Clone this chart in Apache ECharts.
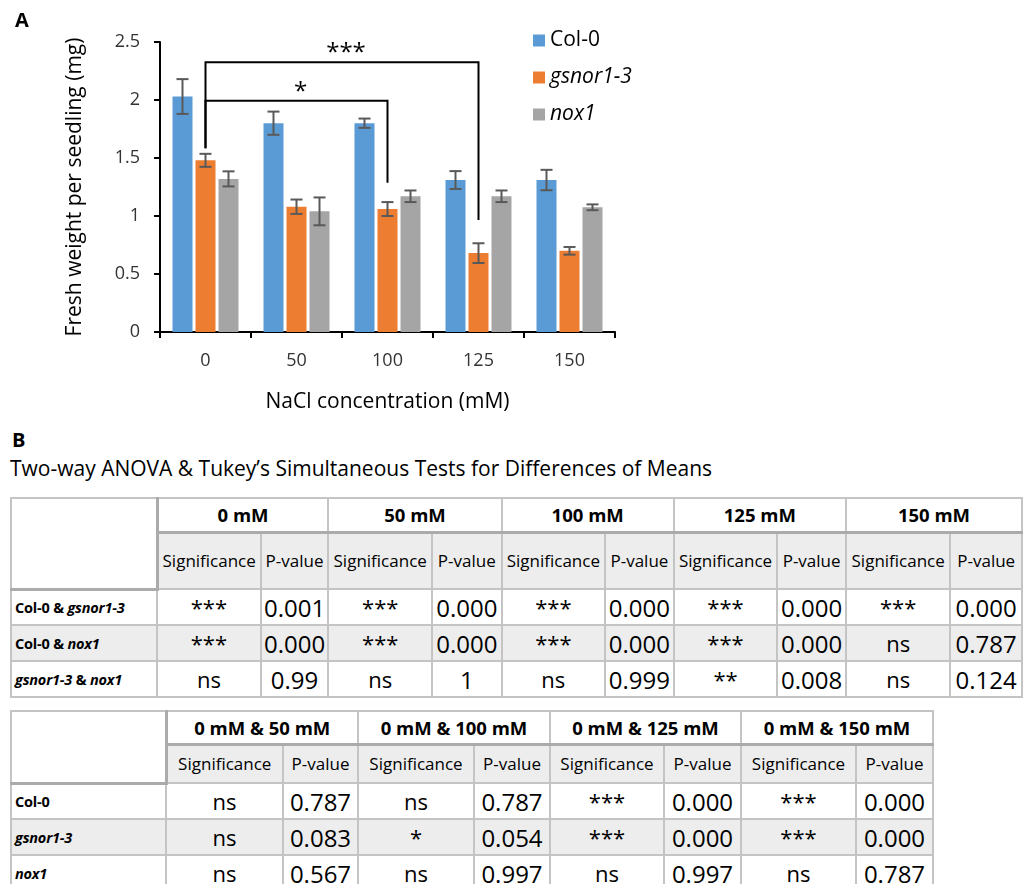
<!DOCTYPE html>
<html>
<head>
<meta charset="utf-8">
<script src="https://cdn.jsdelivr.net/npm/echarts@6/dist/echarts.min.js"></script>
<style>
  html, body { margin: 0; padding: 0; background: #fff; width: 1023px; height: 884px; overflow: hidden; }
  body { position: relative; font-family: "Open Sans", "Noto Sans", sans-serif; color: #000; }
  #chart { position: absolute; left: 0; top: 0; width: 1023px; height: 425px; }
  .panel { position: absolute; font-weight: bold; font-size: 20px; line-height: 24px; }
  .caption { position: absolute; font-size: 21px; line-height: 26px; white-space: nowrap; }
  table { position: absolute; border-collapse: collapse; table-layout: fixed; }
  td { border: 2px solid #C4C4C4; text-align: center; vertical-align: middle; padding: 0; white-space: nowrap; overflow: hidden; }
  td.rh { text-align: left; padding-left: 3px; font-weight: bold; font-size: 14.5px; letter-spacing: -0.2px; }
  td.grp { font-weight: bold; font-size: 18.5px; background: #fff; }
  td.sub { font-size: 17px; background: #EDEDED; border-top: 3px solid #ABABAB; }
  td.corner { background: #fff; border-bottom: 3px solid #ABABAB; border-right: 3px solid #ABABAB; }
  td.sig { font-size: 22px; }
  td.pv { font-size: 24px; }
  tr.alt td { background: #EDEDED; }
</style>
</head>
<body>
<div id="chart"></div>
<div class="panel" style="left:12px; top:428px;">B</div>
<div class="caption" style="left:10px; top:455px;">Two-way ANOVA &amp; Tukey’s Simultaneous Tests for Differences of Means</div>
<table id="t1" style="left:10px; top:497px;"></table>
<table id="t2" style="left:10px; top:710px;"></table>
<script>
// ---- Panel A data: fresh weight per seedling (mg) ----
const categories = ['0', '50', '100', '125', '150'];
const seriesNames = ['Col-0', 'gsnor1-3', 'nox1'];
const col0 = [2.03, 1.80, 1.80, 1.31, 1.31];
const gsnor = [1.48, 1.08, 1.06, 0.68, 0.70];
const nox1 = [1.32, 1.04, 1.17, 1.17, 1.075];
const col0Err = [0.15, 0.10, 0.04, 0.077, 0.088];
const gsnorErr = [0.056, 0.062, 0.06, 0.085, 0.033];
const nox1Err = [0.065, 0.12, 0.05, 0.05, 0.025];
const yTicks = [0, 0.5, 1, 1.5, 2, 2.5];

// significance brackets: [fromCategory, toCategory, barHeight, leftEnd, rightEnd]
const brackets = [[0, 3, 2.325, 1.584, 0.966], [0, 2, 1.994, 1.584, 1.287]];
const bracketLabels = ['***', '*'];

// ---- Panel B data ----
const t1Groups = ['0 mM', '50 mM', '100 mM', '125 mM', '150 mM'];
const t1Rows = [['Col-0', 'gsnor1-3'], ['Col-0', 'nox1'], ['gsnor1-3', 'nox1']];
const t1Sig = [['***', '***', '***', '***', '***'], ['***', '***', '***', '***', 'ns'], ['ns', 'ns', 'ns', '**', 'ns']];
const t1P = [['0.001', '0.000', '0.000', '0.000', '0.000'], ['0.000', '0.000', '0.000', '0.000', '0.787'], ['0.99', '1', '0.999', '0.008', '0.124']];

const t2Groups = ['0 mM & 50 mM', '0 mM & 100 mM', '0 mM & 125 mM', '0 mM & 150 mM'];
const t2Rows = ['Col-0', 'gsnor1-3', 'nox1'];
const t2Sig = [['ns', 'ns', '***', '***'], ['ns', '*', '***', '***'], ['ns', 'ns', 'ns', 'ns']];
const t2P = [['0.787', '0.787', '0.000', '0.000'], ['0.083', '0.054', '0.000', '0.000'], ['0.567', '0.997', '0.997', '0.787']];

const italicNames = ['gsnor1-3', 'nox1'];
const colors = ['#5B9BD5', '#ED7D31', '#A5A5A5'];
const BAR_W = 20, BAR_STEP = 23;

const chart = echarts.init(document.getElementById('chart'), null, { renderer: 'canvas' });
const FONT = '"Open Sans", "Noto Sans", sans-serif';

const values = [col0, gsnor, nox1];
const errs = [col0Err, gsnorErr, nox1Err];

const barSeries = seriesNames.map((name, i) => ({
  name: name,
  type: 'bar',
  data: values[i],
  barWidth: BAR_W,
  barGap: '15%',
  barCategoryGap: '26%',
  itemStyle: { color: colors[i] },
  z: 2
}));

// error bars drawn beside each bar of the group
const errSeries = seriesNames.map((name, i) => ({
  type: 'custom',
  name: name + ' err',
  z: 5,
  encode: { x: 0, y: [1, 2] },
  data: values[i].map((v, k) => [k, v - errs[i][k], v + errs[i][k]]),
  renderItem: function (params, api) {
    const k = api.value(0);
    const lo = api.coord([k, api.value(1)]);
    const hi = api.coord([k, api.value(2)]);
    const x = lo[0] + (i - 1) * BAR_STEP;
    const cap = 6;
    const style = { stroke: '#595959', lineWidth: 2 };
    return {
      type: 'group',
      children: [
        { type: 'line', shape: { x1: x, y1: lo[1], x2: x, y2: hi[1] }, style: style },
        { type: 'line', shape: { x1: x - cap, y1: lo[1], x2: x + cap, y2: lo[1] }, style: style },
        { type: 'line', shape: { x1: x - cap, y1: hi[1], x2: x + cap, y2: hi[1] }, style: style }
      ]
    };
  }
}));

const bracketSeries = {
  type: 'custom',
  name: 'brackets',
  z: 6,
  data: brackets,
  encode: { x: [0, 1], y: [2, 3, 4] },
  renderItem: function (params, api) {
    const a = api.value(0), b = api.value(1);
    const pTopL = api.coord([a, api.value(2)]);
    const pTopR = api.coord([b, api.value(2)]);
    const pL = api.coord([a, api.value(3)]);
    const pR = api.coord([b, api.value(4)]);
    return {
      type: 'group',
      children: [
        { type: 'polyline', shape: { points: [pL, pTopL, pTopR, pR] },
          style: { stroke: '#000', lineWidth: 2, fill: null } },
        { type: 'text', x: (pTopL[0] + pTopR[0]) / 2 + 4, y: pTopL[1] + 3,
          style: { text: bracketLabels[params.dataIndex], fill: '#000', font: '24px ' + FONT,
                   align: 'center', verticalAlign: 'bottom' } }
      ]
    };
  }
};

chart.setOption({
  animation: false,
  title: { text: 'A', left: 10, top: 6, textStyle: { fontSize: 20, fontWeight: 'bold', color: '#000', fontFamily: FONT } },
  legend: {
    data: seriesNames,
    orient: 'vertical',
    left: 528,
    top: 25,
    itemWidth: 12,
    itemHeight: 12,
    itemGap: 16,
    icon: 'rect',
    formatter: n => italicNames.includes(n) ? '{i|' + n + '}' : '{n|' + n + '}',
    textStyle: {
      fontFamily: FONT, color: '#000',
      rich: {
        n: { fontSize: 21, fontFamily: FONT, color: '#000' },
        i: { fontSize: 21, fontFamily: FONT, fontStyle: 'italic', color: '#000' }
      }
    }
  },
  grid: { left: 160, top: 42, width: 455, height: 290, containLabel: false },
  xAxis: {
    type: 'category',
    data: categories,
    name: 'NaCl concentration (mM)',
    nameLocation: 'middle',
    nameGap: 60,
    nameTextStyle: { fontSize: 21, color: '#000', fontFamily: FONT },
    axisLine: { lineStyle: { color: '#000', width: 2 } },
    axisTick: { show: true, length: 6, lineStyle: { color: '#000', width: 2 } },
    axisLabel: { fontSize: 18, color: '#333', margin: 20, fontFamily: FONT }
  },
  yAxis: {
    type: 'value',
    min: 0, max: 2.5, interval: 0.5,
    name: 'Fresh weight per seedling (mg)',
    nameLocation: 'middle',
    nameGap: 74,
    nameTextStyle: { fontSize: 21, color: '#000', fontFamily: FONT },
    axisLine: { show: true, lineStyle: { color: '#000', width: 2 } },
    axisTick: { show: true, length: 6, lineStyle: { color: '#000', width: 2 } },
    splitLine: { show: false },
    axisLabel: {
      fontSize: 18, color: '#333', margin: 20, fontFamily: FONT,
      formatter: v => yTicks.includes(v) ? String(v) : ''
    }
  },
  series: [...barSeries, ...errSeries, bracketSeries]
});

// ---- Panel B tables ----
function rowLabel(parts) {
  return parts.map(p => italicNames.includes(p) ? '<i>' + p + '</i>' : p).join(' &amp; ');
}
function buildTable(el, groups, rows, sig, pv, widths, heights) {
  let html = '<colgroup>' + widths.map(w => '<col style="width:' + w + 'px">').join('') + '</colgroup>';
  html += '<tr style="height:' + heights[0] + 'px"><td class="corner" rowspan="2"></td>' +
    groups.map(g => '<td class="grp" colspan="2">' + g + '</td>').join('') + '</tr>';
  html += '<tr style="height:' + heights[1] + 'px">' +
    groups.map(() => '<td class="sub">Significance</td><td class="sub">P-value</td>').join('') + '</tr>';
  rows.forEach((r, ri) => {
    html += '<tr class="' + (ri === 1 ? 'alt' : '') + '" style="height:' + heights[2] + 'px"><td class="rh">' +
      rowLabel(Array.isArray(r) ? r : [r]) + '</td>' +
      groups.map((g, gi) => '<td class="sig">' + sig[ri][gi] + '</td><td class="pv">' + pv[ri][gi] + '</td>').join('') +
      '</tr>';
  });
  el.innerHTML = html;
}
buildTable(document.getElementById('t1'), t1Groups, t1Rows, t1Sig, t1P,
  [148, 104, 68, 104, 70, 104, 69, 104, 69, 105, 72], [34, 57, 36]);
buildTable(document.getElementById('t2'), t2Groups, t2Rows, t2Sig, t2P,
  [155, 117, 75, 116, 76, 114, 77, 115, 77], [33, 39, 36]);
</script>
</body>
</html>
